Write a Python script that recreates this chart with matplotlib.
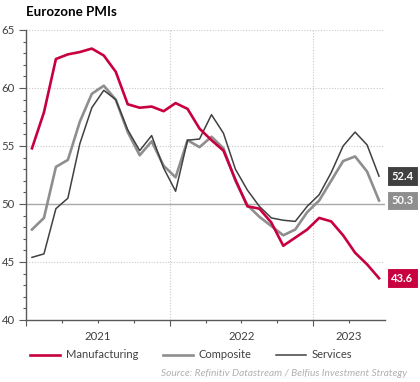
import matplotlib
matplotlib.use("Agg")
import matplotlib.pyplot as plt
import numpy as np

plt.rcParams['font.family'] = ['Lato', 'DejaVu Sans']

# Monthly data Jan 2021 - Jun 2023
months = ["2021-01", "2021-02", "2021-03", "2021-04", "2021-05", "2021-06",
          "2021-07", "2021-08", "2021-09", "2021-10", "2021-11", "2021-12",
          "2022-01", "2022-02", "2022-03", "2022-04", "2022-05", "2022-06",
          "2022-07", "2022-08", "2022-09", "2022-10", "2022-11", "2022-12",
          "2023-01", "2023-02", "2023-03", "2023-04", "2023-05", "2023-06"]
manufacturing = [54.8, 57.9, 62.5, 62.9, 63.1, 63.4, 62.8, 61.4, 58.6, 58.3, 58.4, 58.0,
                 58.7, 58.2, 56.5, 55.5, 54.6, 52.1, 49.8, 49.6, 48.4, 46.4, 47.1, 47.8,
                 48.8, 48.5, 47.3, 45.8, 44.8, 43.6]
composite = [47.8, 48.8, 53.2, 53.8, 57.1, 59.5, 60.2, 59.0, 56.2, 54.2, 55.4, 53.3,
             52.3, 55.5, 54.9, 55.8, 54.8, 52.0, 49.9, 48.9, 48.1, 47.3, 47.8, 49.3,
             50.3, 52.0, 53.7, 54.1, 52.8, 50.3]
services = [45.4, 45.7, 49.6, 50.5, 55.2, 58.3, 59.8, 59.0, 56.4, 54.6, 55.9, 53.1,
            51.1, 55.5, 55.6, 57.7, 56.1, 53.0, 51.2, 49.8, 48.8, 48.6, 48.5, 49.8,
            50.8, 52.7, 55.0, 56.2, 55.1, 52.4]
year_labels = ["2021", "2022", "2023"]
series_names = ["Manufacturing", "Composite", "Services"]

c_man = '#C8003F'
c_comp = '#8E8E8E'
c_serv = '#404040'
txt = '#404040'

fig = plt.figure(figsize=(4.2, 3.82), dpi=100)
ax = fig.add_axes([26/420, 1-320/382, (385-26)/420, (320-30)/382])

x = np.arange(len(months)) + 0.5

# grid
for yv in [45, 55, 60, 65]:
    ax.axhline(yv, color='#C8C8C8', lw=0.8, ls=(0, (1, 1.5)), zorder=1)
for xv in [12, 24]:
    ax.axvline(xv, color='#C8C8C8', lw=0.8, ls=(0, (1, 1.5)), zorder=1)
ax.axhline(50, color='#A8A8A8', lw=1.0, zorder=1)

ax.plot(x, services, color=c_serv, lw=1.1, label=series_names[2], zorder=3)
ax.plot(x, composite, color=c_comp, lw=1.9, label=series_names[1], zorder=2)
ax.plot(x, manufacturing, color=c_man, lw=1.9, label=series_names[0], zorder=4)

ax.set_xlim(0, 30)
ax.set_ylim(40, 65)

for s in ['top', 'right']:
    ax.spines[s].set_visible(False)
for s in ['left', 'bottom']:
    ax.spines[s].set_color('#595959')
    ax.spines[s].set_linewidth(1.0)

ax.set_yticks([40, 45, 50, 55, 60, 65])
ax.set_yticks(np.arange(40, 66, 1), minor=True)
ax.tick_params(axis='y', which='major', length=5, width=0.8, color='#595959',
               labelsize=8.2, labelcolor=txt, pad=3)
ax.tick_params(axis='y', which='minor', length=2.5, width=0.8, color='#595959')

# year boundaries as major ticks, quarters as minor ticks; year labels on minor ticks
ax.set_xticks([0, 12, 24], labels=["", "", ""])
minor_pos = [3, 6, 9, 15, 18, 21, 27]
minor_lbl = ["", year_labels[0], "", "", year_labels[1], "", year_labels[2]]
ax.set_xticks(minor_pos, labels=minor_lbl, minor=True)
ax.tick_params(axis='x', which='major', length=4, width=0.8, color='#595959')
ax.tick_params(axis='x', which='minor', length=2.5, width=0.8, color='#595959',
               labelsize=8.2, labelcolor=txt, pad=5.5)

# end labels
for vals, col in [(services, c_serv), (composite, c_comp), (manufacturing, c_man)]:
    v = vals[-1]
    ax.annotate(f"{v:.1f}", xy=(1, v), xycoords=('axes fraction', 'data'),
                xytext=(4.6, 0), textcoords='offset points', ha='left', va='center',
                fontsize=8, color='white', fontweight='bold',
                bbox=dict(boxstyle='square,pad=0.4', fc=col, ec='white', lw=0.8),
                annotation_clip=False, zorder=6)

fig.text(26/420, 1-11.5/382, "Eurozone PMIs", fontsize=9.6, fontweight='bold',
         color='black', ha='left', va='center')

handles, labels = ax.get_legend_handles_labels()
order = [2, 1, 0]
fig.legend([handles[i] for i in order], [labels[i] for i in order],
           loc='center', bbox_to_anchor=(191/420, 1-355/382), ncol=3,
           frameon=False, fontsize=8, handlelength=2.7, handletextpad=0.5,
           columnspacing=2.2, labelcolor=txt)

fig.text(407/420, 1-374/382, "Source: Refinitiv Datastream / Belfius Investment Strategy",
         fontsize=7.3, style='italic', color='#B0B0B0', ha='right', va='center')

fig.savefig("out.png", dpi=100)
